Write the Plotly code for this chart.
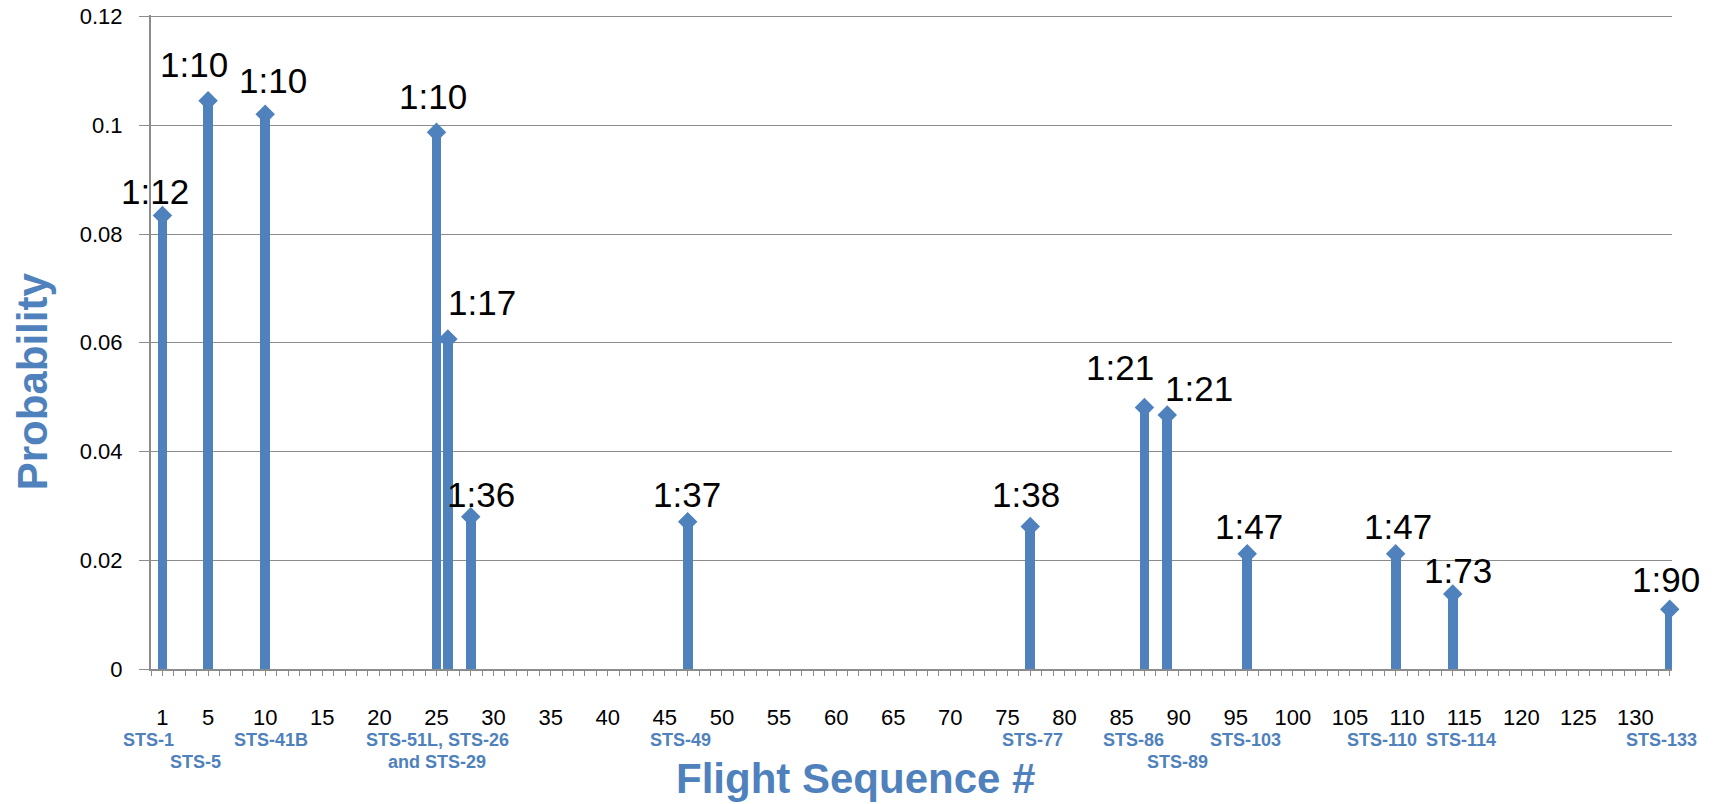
import plotly.graph_objects as go

# ---------------- data ----------------
flights = [1, 5, 10, 25, 26, 28, 47, 77, 87, 89, 96, 109, 114, 133]
probability = [0.0834, 0.1045, 0.1020, 0.0987, 0.0607, 0.0280, 0.0271,
               0.0262, 0.0481, 0.0467, 0.0212, 0.0212, 0.0138, 0.0110]
odds_labels = ["1:12", "1:10", "1:10", "1:10", "1:17", "1:36", "1:37",
               "1:38", "1:21", "1:21", "1:47", "1:47", "1:73", "1:90"]

mission_labels = ["STS-1", "STS-5", "STS-41B", "STS-51L, STS-26", "and STS-29",
                  "STS-49", "STS-77", "STS-86", "STS-89", "STS-103",
                  "STS-110", "STS-114", "STS-133"]
mission_flights = [1, 5, 10, 25, 25, 47, 77, 87, 89, 96, 109, 114, 133]

x_tick_vals = [1, 5, 10, 15, 20, 25, 30, 35, 40, 45, 50, 55, 60, 65, 70,
               75, 80, 85, 90, 95, 100, 105, 110, 115, 120, 125, 130]
x_tick_text = [str(v) for v in x_tick_vals]
y_tick_vals = [0, 0.02, 0.04, 0.06, 0.08, 0.1, 0.12]
y_tick_text = ["0", "0.02", "0.04", "0.06", "0.08", "0.1", "0.12"]

x_title = "Flight Sequence #"
y_title = "Probability"

# ---------------- styles ----------------
BLUE = "#4F81BD"
GRID = "#8C8C8C"
FONT = "Arial, Liberation Sans, sans-serif"

# pixel offsets of the odds labels relative to their diamond (dx right, dy up)
label_dx = [-7, -14, 8, -3, 34, 10.5, -1, -4, -24, 32, 2, 2, 5, -4]
label_dy = [24, 36.5, 33.4, 36, 36, 22, 27, 32, 40, 27, 27, 27, 23, 30]
# mission label styling: row (0 first line, 1 second line) and x pixel shift
mission_row = [0, 1, 0, 0, 1, 0, 0, 0, 1, 0, 0, 0, 0]
mission_dx = [-14, -12.5, 6, 1, 1, -7, 2.5, -11, 10, -2, -14, 8, -8]
row_shift = [-71, -93]

# page layout (the html body adds an 8px offset)
OFF = 8
PAGE_W, PAGE_H = 1713, 804
Y_TOP_PX, Y_ZERO_PX = 16, 669.5           # page pixels of 0.12 and 0
PAD_TOP = 1.5                              # small extra room above 0.12
PL, PR = 151, 1672                         # plot area left/right (page px)
PB = Y_ZERO_PX
PT = Y_TOP_PX - PAD_TOP
px_per_unit = (Y_ZERO_PX - Y_TOP_PX) / 0.12
y_max = 0.12 + PAD_TOP / px_per_unit

W, H = PAGE_W - OFF, PAGE_H - OFF
L, T = PL - OFF, PT - OFF
R = W - (PR - OFF)
B = H - (PB - OFF)
plot_w = PR - PL
plot_h = PB - PT

fig = go.Figure()

# stems
fig.add_trace(go.Bar(
    x=flights, y=probability, width=0.85,
    marker=dict(color=BLUE, line=dict(width=0)),
    cliponaxis=False, hoverinfo="skip", showlegend=False,
))
# diamond markers
fig.add_trace(go.Scatter(
    x=flights, y=probability, mode="markers",
    marker=dict(symbol="diamond", size=15, color=BLUE, line=dict(width=0)),
    cliponaxis=False, showlegend=False,
))

annotations = []
for fx, p, t, dx, dy in zip(flights, probability, odds_labels, label_dx, label_dy):
    annotations.append(dict(
        x=fx, y=p, xref="x", yref="y", text=t, showarrow=False,
        xanchor="center", yanchor="middle", xshift=dx, yshift=dy,
        font=dict(family=FONT, size=35, color="black"),
    ))
for lab, fx, row, dx in zip(mission_labels, mission_flights, mission_row, mission_dx):
    annotations.append(dict(
        x=fx, y=0, xref="x", yref="paper", text="<b>%s</b>" % lab, showarrow=False,
        xanchor="center", yanchor="middle", xshift=dx, yshift=row_shift[row],
        font=dict(family=FONT, size=18, color=BLUE),
    ))
# axis titles
annotations.append(dict(
    x=(855.8 - PL) / plot_w, y=0, xref="paper", yref="paper",
    text="<b>%s</b>" % x_title, showarrow=False,
    xanchor="center", yanchor="middle", yshift=-(778.8 - PB),
    font=dict(family=FONT, size=42, color=BLUE),
))
annotations.append(dict(
    x=0, y=(PB - 381.7) / plot_h, xref="paper", yref="paper",
    text="<b>%s</b>" % y_title, showarrow=False, textangle=-90,
    xanchor="center", yanchor="middle", xshift=32.6 - PL,
    font=dict(family=FONT, size=42, color=BLUE),
))

fig.update_layout(
    width=W, height=H,
    margin=dict(l=L, r=R, t=T, b=B, pad=0, autoexpand=False),
    paper_bgcolor="white", plot_bgcolor="white",
    showlegend=False, bargap=0,
    annotations=annotations,
    xaxis=dict(
        range=[0, 133.2], tickmode="array", tickvals=x_tick_vals, ticktext=x_tick_text,
        ticks="", showgrid=False, zeroline=False, automargin=False,
        showline=True, linecolor=GRID, linewidth=2,
        tickfont=dict(family=FONT, size=22, color="black"),
        ticklabelstandoff=28, ticklabeloverflow="allow",
        minor=dict(ticks="outside", ticklen=5, tickwidth=1, tickcolor=GRID,
                   tickmode="linear", tick0=0, dtick=1, showgrid=False),
    ),
    yaxis=dict(
        range=[0, y_max], tickmode="array", tickvals=y_tick_vals, ticktext=y_tick_text,
        ticks="outside", ticklen=10, tickwidth=1.3, tickcolor=GRID,
        showgrid=True, gridcolor=GRID, gridwidth=1.3, zeroline=False, automargin=False,
        showline=True, linecolor=GRID, linewidth=2,
        tickfont=dict(family=FONT, size=22, color="black"),
        ticklabelstandoff=12, ticklabeloverflow="allow",
    ),
)

fig.write_html("out.html")
